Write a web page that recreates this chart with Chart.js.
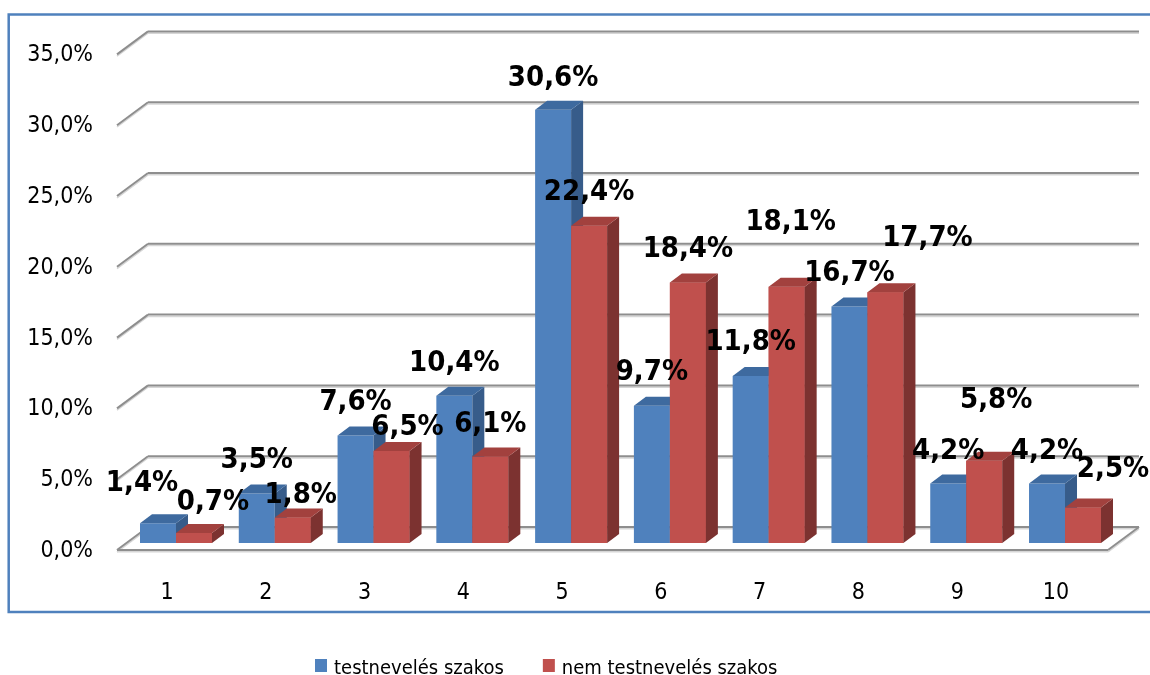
<!DOCTYPE html>
<html>
<head>
<meta charset="utf-8">
<title>testnevelés szakos / nem testnevelés szakos</title>
<script src="https://cdn.jsdelivr.net/npm/chart.js@4.4.0/dist/chart.umd.min.js"></script>
<style>
  html, body { margin: 0; padding: 0; background: #fff; }
  canvas { display: block; }
</style>
</head>
<body>
<canvas id="chart" width="1150" height="675"></canvas>
<script>
// --- Data ---
const categories = ["1", "2", "3", "4", "5", "6", "7", "8", "9", "10"];
const seriesNames = ["testnevelés szakos", "nem testnevelés szakos"];
const testnevelesValues = [1.4, 3.5, 7.6, 10.4, 30.6, 9.7, 11.8, 16.7, 4.2, 4.2];
const nemTestnevelesValues = [0.7, 1.8, 6.5, 6.1, 22.4, 18.4, 18.1, 17.7, 5.8, 2.5];
const yTicks = [0, 5, 10, 15, 20, 25, 30, 35];

// hand-placed value labels: [dx, dy] nudges from the default spot above each bar
const blueLabelNudge = [[-16, -7], [0, 0], [0, 0], [0, 1], [0, 2], [0, 0], [0, 0], [0, 0], [0, 1], [0, 1]];
const redLabelNudge = [[19, 2], [8, 11], [16, 10], [0, 1], [0, 0], [0, 0], [4, -31], [42, -21], [12, -27], [30, -5]];

// --- Look ---
const FONT = '"DejaVu Sans Condensed", "DejaVu Sans", sans-serif';
const faces = [
  { front: "#4F81BD", top: "#3E6A9F", side: "#375C8A" },
  { front: "#C0504D", top: "#A2413E", side: "#7C3230" },
];
const DEPTH = { dx: 12, dy: -9 };   // bar depth
const WALL = { dx: 21.4, dy: -16 }; // back wall offset from bar plane
const FRONT = { dx: -9.6, dy: 7 };  // floor front edge offset

function pct(v) {
  return v.toFixed(1).replace(".", ",") + "%";
}

function shadedLine(ctx, x1, y1, x2, y2) {
  ctx.strokeStyle = "#d6d6d6";
  ctx.lineWidth = 1.5;
  ctx.beginPath();
  ctx.moveTo(x1, y1 + 1.8);
  ctx.lineTo(x2, y2 + 1.8);
  ctx.stroke();
  ctx.strokeStyle = "#8e8e8e";
  ctx.lineWidth = 2;
  ctx.beginPath();
  ctx.moveTo(x1, y1);
  ctx.lineTo(x2, y2);
  ctx.stroke();
}

function drawBox(ctx, bar, colors) {
  const { x, y, width, base } = bar.getProps(["x", "y", "width", "base"], true);
  const x1 = x - width / 2, x2 = x + width / 2;
  ctx.fillStyle = colors.side;
  ctx.beginPath();
  ctx.moveTo(x2, y);
  ctx.lineTo(x2 + DEPTH.dx, y + DEPTH.dy);
  ctx.lineTo(x2 + DEPTH.dx, base + DEPTH.dy);
  ctx.lineTo(x2, base);
  ctx.closePath();
  ctx.fill();
  ctx.fillStyle = colors.top;
  ctx.beginPath();
  ctx.moveTo(x1, y);
  ctx.lineTo(x2, y);
  ctx.lineTo(x2 + DEPTH.dx, y + DEPTH.dy);
  ctx.lineTo(x1 + DEPTH.dx, y + DEPTH.dy);
  ctx.closePath();
  ctx.fill();
}

const scenePlugin = {
  id: "scene",
  beforeDraw(chart) {
    const ctx = chart.ctx;
    ctx.save();
    ctx.strokeStyle = "#4F81BD";
    ctx.lineWidth = 2.5;
    ctx.strokeRect(8.7, 14.5, 1150, 597.5);
    ctx.restore();
  },
  beforeDatasetsDraw(chart) {
    const { ctx, chartArea: a, scales: { y } } = chart;
    const y0 = y.getPixelForValue(0);
    const backRight = a.right + 24.6;
    const frontRight = a.right - 6.4;
    ctx.save();
    // floor
    ctx.fillStyle = "#fff";
    ctx.beginPath();
    ctx.moveTo(a.left + FRONT.dx, y0 + FRONT.dy);
    ctx.lineTo(frontRight, y0 + FRONT.dy);
    ctx.lineTo(backRight, y0 + WALL.dy);
    ctx.lineTo(a.left + WALL.dx, y0 + WALL.dy);
    ctx.closePath();
    ctx.fill();
    // gridlines on the back wall, with the slanted bit towards the tick labels
    yTicks.forEach((v) => {
      const py = y.getPixelForValue(v);
      shadedLine(ctx, a.left + FRONT.dx, py + FRONT.dy, a.left + WALL.dx, py + WALL.dy);
      shadedLine(ctx, a.left + WALL.dx, py + WALL.dy, backRight, py + WALL.dy);
    });
    shadedLine(ctx, a.left + FRONT.dx, y0 + FRONT.dy, frontRight, y0 + FRONT.dy);
    shadedLine(ctx, frontRight, y0 + FRONT.dy, backRight, y0 + WALL.dy);
    ctx.restore();
  },
  afterDatasetsDraw(chart) {
    const ctx = chart.ctx;
    const blue = chart.getDatasetMeta(0).data;
    const red = chart.getDatasetMeta(1).data;
    ctx.save();
    // left to right: blue box, then red front over blue's side, then red box
    blue.forEach((bar, i) => {
      drawBox(ctx, bar, faces[0]);
      red[i].draw(ctx);
      drawBox(ctx, red[i], faces[1]);
    });
    // value labels
    ctx.font = "bold 29px " + FONT;
    ctx.fillStyle = "#000";
    ctx.textAlign = "center";
    ctx.textBaseline = "middle";
    [[blue, testnevelesValues, blueLabelNudge], [red, nemTestnevelesValues, redLabelNudge]].forEach(([bars, vals, nudge]) => {
      bars.forEach((bar, i) => {
        const p = bar.getProps(["x", "y"], true);
        ctx.fillText(pct(vals[i]), p.x + nudge[i][0], p.y - 33 + nudge[i][1]);
      });
    });
    ctx.restore();
  },
  afterDraw(chart) {
    const ctx = chart.ctx;
    ctx.save();
    ctx.font = "20px " + FONT;
    ctx.fillStyle = "#000";
    ctx.textBaseline = "alphabetic";
    let x = 315;
    chart.data.datasets.forEach((ds, i) => {
      ctx.fillStyle = faces[i].front;
      ctx.fillRect(x, 659, 12, 13);
      ctx.fillStyle = "#000";
      ctx.fillText(ds.label, x + 19, 674);
      x += 19 + ctx.measureText(ds.label).width + 39;
    });
    ctx.restore();
  },
};

Chart.defaults.font.family = FONT;
Chart.defaults.color = "#000";

new Chart(document.getElementById("chart"), {
  type: "bar",
  data: {
    labels: categories,
    datasets: [
      { label: seriesNames[0], data: testnevelesValues, backgroundColor: faces[0].front },
      { label: seriesNames[1], data: nemTestnevelesValues, backgroundColor: faces[1].front },
    ],
  },
  options: {
    responsive: false,
    animation: false,
    devicePixelRatio: 1,
    events: [],
    layout: { padding: { left: 20, right: 35.6, top: 39, bottom: 0 } },
    datasets: { bar: { barPercentage: 1, categoryPercentage: 0.7287 } },
    plugins: { legend: { display: false }, tooltip: { enabled: false } },
    scales: {
      x: {
        grid: { display: false, drawTicks: false },
        border: { display: false },
        ticks: { font: { size: 23 }, padding: 36.7, labelOffset: -9 },
        afterFit: (s) => { s.height = 132; },
      },
      y: {
        min: 0,
        max: 35,
        grid: { display: false, drawTicks: false },
        border: { display: false },
        ticks: { stepSize: 5, font: { size: 23 }, padding: 33.6, labelOffset: 8, callback: (v) => pct(v) },
        afterFit: (s) => { s.width = 106.6; },
      },
    },
  },
  plugins: [scenePlugin],
});
</script>
</body>
</html>
